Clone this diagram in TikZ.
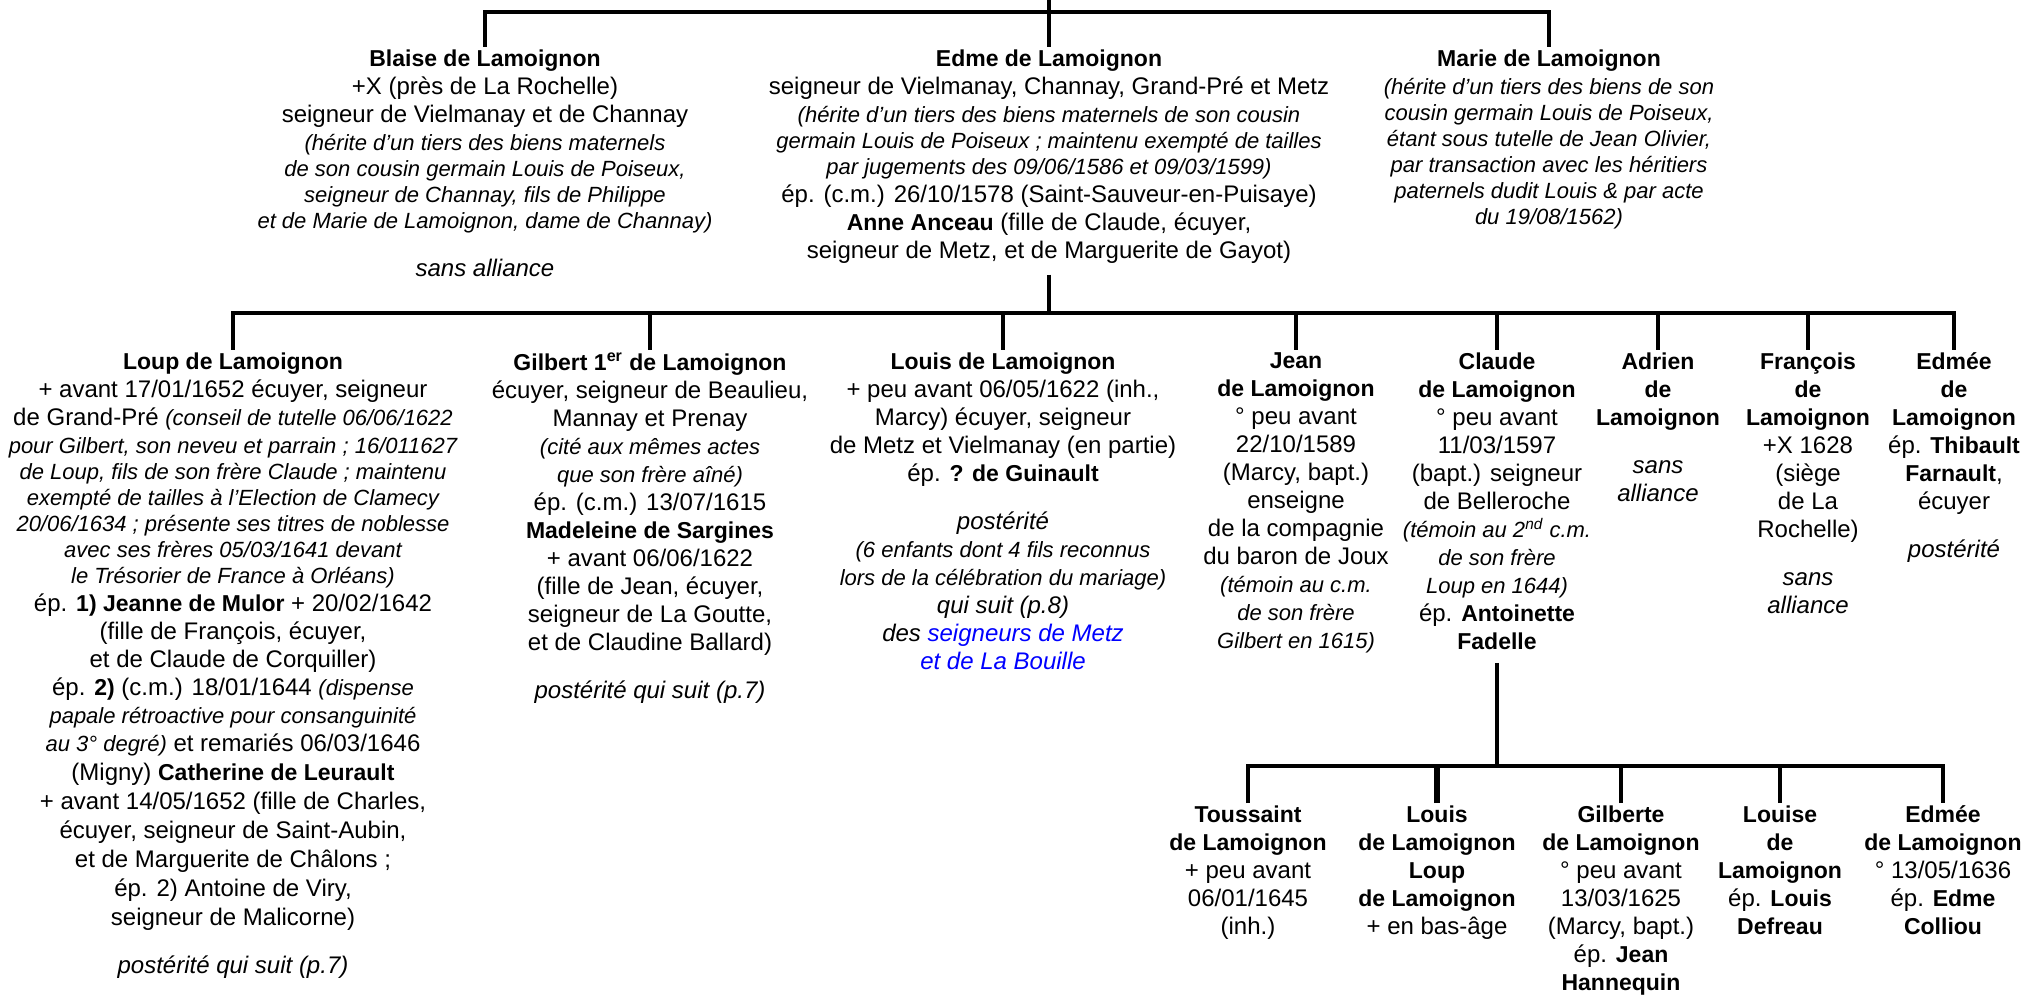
\documentclass[tikz,border=0pt]{standalone}
\usepackage{fontspec}
\setmainfont{Liberation Sans}
\usepackage{tikz}
\usetikzlibrary{calc}
\newcommand{\nm}[1]{{\fontsize{11.5pt}{14pt}\selectfont\bfseries #1}}
\newcommand{\ital}[1]{{\fontsize{11pt}{13pt}\selectfont\itshape #1}}
\newcommand{\ibr}{\\[-1pt]}
\newcommand{\wbr}{\\[0.5pt]}
\newcommand{\gapline}{\\[10pt]}

\begin{document}
\begin{tikzpicture}[x=0.5pt,y=-0.5pt,
        person/.style={anchor=north,align=center,inner sep=0pt,outer sep=1.5pt,
            font=\fontsize{12pt}{14pt}\selectfont},
        branch/.style={black,line width=1.7pt}]
        \useasboundingbox (0,0) rectangle (2024,999);
        % Bars of the tree
        \coordinate (parents) at (1049,0);
        \coordinate (bar1) at (0,12);
        \coordinate (bar2) at (0,313);
        \coordinate (bar3) at (0,766);
        % Edme's generation
        \node[person] (blaise) at (485,47) {\nm{Blaise de Lamoignon}\\
            +X (près de La Rochelle)\\
            seigneur de Vielmanay et de Channay\\
            \ital{(hérite d’un tiers des biens maternels}\ibr
            \ital{de son cousin germain Louis de Poiseux,}\ibr
            \ital{seigneur de Channay, fils de Philippe}\ibr
            \ital{et de Marie de Lamoignon, dame de Channay)}\gapline
            \textit{sans alliance}};
        \node[person] (edme) at (1049,47) {\nm{Edme de Lamoignon}\\
            seigneur de Vielmanay, Channay, Grand-Pré et Metz\\
            \ital{(hérite d’un tiers des biens maternels de son cousin}\ibr
            \ital{germain Louis de Poiseux ; maintenu exempté de tailles}\ibr
            \ital{par jugements des 09/06/1586 et 09/03/1599)}\\
            ép. (c.m.) 26/10/1578 (Saint-Sauveur-en-Puisaye)\\
            \nm{Anne Anceau} (fille de Claude, écuyer,\\
            seigneur de Metz, et de Marguerite de Gayot)};
        \node[person] (marie) at (1549,47) {\nm{Marie de Lamoignon}\\
            \ital{(hérite d’un tiers des biens de son}\ibr
            \ital{cousin germain Louis de Poiseux,}\ibr
            \ital{étant sous tutelle de Jean Olivier,}\ibr
            \ital{par transaction avec les héritiers}\ibr
            \ital{paternels dudit Louis \& par acte}\ibr
            \ital{du 19/08/1562)}};
        % Children of Edme
        \node[person] (loup) at (233,350) {\nm{Loup de Lamoignon}\\
            + avant 17/01/1652 écuyer, seigneur\\
            de Grand-Pré \ital{(conseil de tutelle 06/06/1622}\\
            \ital{pour Gilbert, son neveu et parrain ; 16/011627}\ibr
            \ital{de Loup, fils de son frère Claude ; maintenu}\ibr
            \ital{exempté de tailles à l’Election de Clamecy}\ibr
            \ital{20/06/1634 ; présente ses titres de noblesse}\ibr
            \ital{avec ses frères 05/03/1641 devant}\ibr
            \ital{le Trésorier de France à Orléans)}\\
            ép. \nm{1) Jeanne de Mulor} + 20/02/1642\\
            (fille de François, écuyer,\\
            et de Claude de Corquiller)\\
            ép. \nm{2)} (c.m.) 18/01/1644 \ital{(dispense}\\
            \ital{papale rétroactive pour consanguinité}\\
            \ital{au 3° degré)} et remariés 06/03/1646\wbr
            (Migny) \nm{Catherine de Leurault}\wbr
            + avant 14/05/1652 (fille de Charles,\wbr
            écuyer, seigneur de Saint-Aubin,\wbr
            et de Marguerite de Châlons ;\wbr
            ép. 2) Antoine de Viry,\wbr
            seigneur de Malicorne)\gapline
            \textit{postérité qui suit (p.7)}};
        \node[person] (gilbert) at (650,350) {\nm{Gilbert 1\textsuperscript{er} de Lamoignon}\\
            écuyer, seigneur de Beaulieu,\\
            Mannay et Prenay\\
            \ital{(cité aux mêmes actes}\\
            \ital{que son frère aîné)}\\
            ép. (c.m.) 13/07/1615\\
            \nm{Madeleine de Sargines}\\
            + avant 06/06/1622\\
            (fille de Jean, écuyer,\\
            seigneur de La Goutte,\\
            et de Claudine Ballard)\gapline
            \textit{postérité qui suit (p.7)}};
        \node[person] (louis) at (1003,350) {\nm{Louis de Lamoignon}\\
            + peu avant 06/05/1622 (inh.,\\
            Marcy) écuyer, seigneur\\
            de Metz et Vielmanay (en partie)\\
            ép. \nm{? de Guinault}\gapline
            \textit{postérité}\\
            \ital{(6 enfants dont 4 fils reconnus}\\
            \ital{lors de la célébration du mariage)}\\
            \textit{qui suit (p.8)}\\
            \textit{des \textcolor{blue}{seigneurs de Metz}}\\
            \textit{\textcolor{blue}{et de La Bouille}}};
        \node[person] (jean) at (1296,350) {\nm{Jean}\\
            \nm{de Lamoignon}\\
            ° peu avant\\
            22/10/1589\\
            (Marcy, bapt.)\\
            enseigne\\
            de la compagnie\\
            du baron de Joux\\
            \ital{(témoin au c.m.}\\
            \ital{de son frère}\\
            \ital{Gilbert en 1615)}};
        \node[person] (claude) at (1497,350) {\nm{Claude}\\
            \nm{de Lamoignon}\\
            ° peu avant\\
            11/03/1597\\
            (bapt.) seigneur\\
            de Belleroche\\
            \ital{(témoin au 2\textsuperscript{nd} c.m.}\\
            \ital{de son frère}\\
            \ital{Loup en 1644)}\\
            ép. \nm{Antoinette}\\
            \nm{Fadelle}};
        \node[person] (adrien) at (1658,350) {\nm{Adrien}\\
            \nm{de}\\
            \nm{Lamoignon}\gapline
            \textit{sans}\\
            \textit{alliance}};
        \node[person] (francois) at (1808,350) {\nm{François}\\
            \nm{de}\\
            \nm{Lamoignon}\\
            +X 1628\\
            (siège\\
            de La\\
            Rochelle)\gapline
            \textit{sans}\\
            \textit{alliance}};
        \node[person] (edmee) at (1954,350) {\nm{Edmée}\\
            \nm{de}\\
            \nm{Lamoignon}\\
            ép. \nm{Thibault}\\
            \nm{Farnault},\\
            écuyer\gapline
            \textit{postérité}};
        % Children of Claude
        \node[person] (toussaint) at (1248,803) {\nm{Toussaint}\\
            \nm{de Lamoignon}\\
            + peu avant\\
            06/01/1645\\
            (inh.)};
        \node[person] (louisloup) at (1437,803) {\nm{Louis}\\
            \nm{de Lamoignon}\\
            \nm{Loup}\\
            \nm{de Lamoignon}\\
            + en bas-âge};
        \node[person] (gilberte) at (1621,803) {\nm{Gilberte}\\
            \nm{de Lamoignon}\\
            ° peu avant\\
            13/03/1625\\
            (Marcy, bapt.)\\
            ép. \nm{Jean}\\
            \nm{Hannequin}};
        \node[person] (louise) at (1780,803) {\nm{Louise}\\
            \nm{de}\\
            \nm{Lamoignon}\\
            ép. \nm{Louis}\\
            \nm{Defreau}};
        \node[person] (edmeeb) at (1943,803) {\nm{Edmée}\\
            \nm{de Lamoignon}\\
            ° 13/05/1636\\
            ép. \nm{Edme}\\
            \nm{Colliou}};
        % Connectors
        \draw[branch] (parents) -- (edme.north);
        \draw[branch] (blaise.north) |- (bar1 -| marie.north) -- (marie.north);
        \draw[branch] ([yshift=-4pt]edme.south) -- (edme.south |- bar2);
        \draw[branch] (loup.north) |- (bar2 -| edmee.north) -- (edmee.north);
        \foreach \child in {gilbert,louis,jean,claude,adrien,francois}
            \draw[branch] (\child.north) -- (\child.north |- bar2);
        \draw[branch] ([yshift=-5pt]claude.south) -- (claude.south |- bar3);
        \draw[branch] (toussaint.north) |- (bar3 -| edmeeb.north) -- (edmeeb.north);
        \foreach \child in {gilberte,louise}
            \draw[branch] (\child.north) -- (\child.north |- bar3);
        \draw[branch,line width=2.8pt] (louisloup.north) -- (louisloup.north |- bar3);
\end{tikzpicture}
\end{document}
